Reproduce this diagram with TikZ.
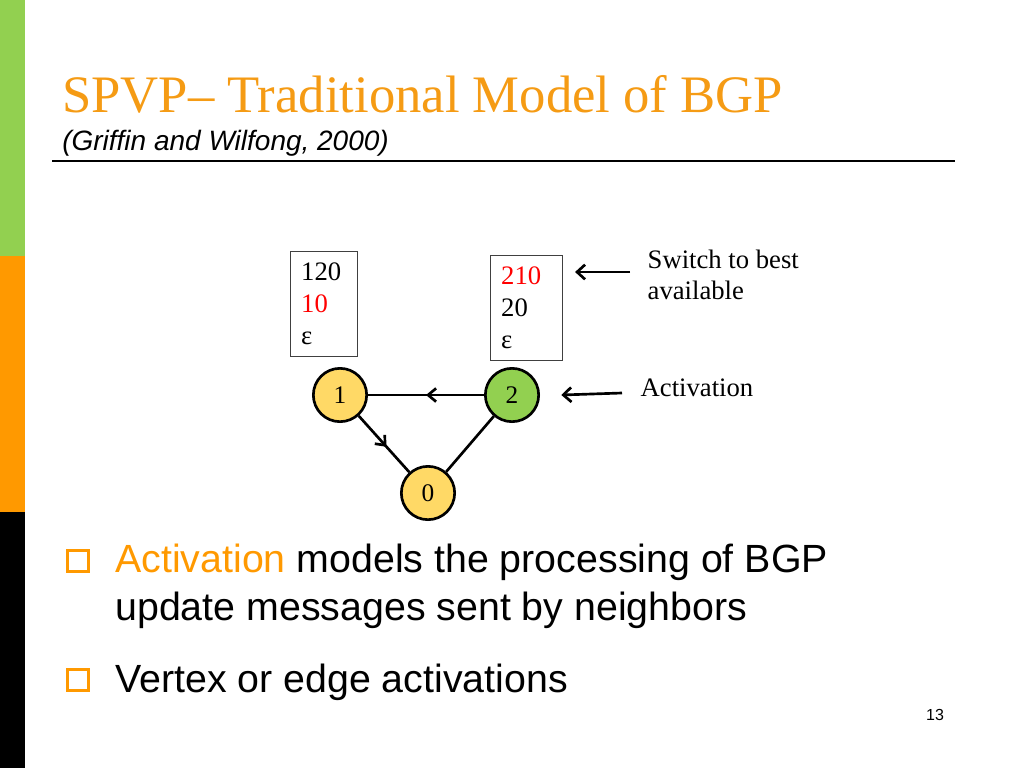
\documentclass[tikz,border=0pt]{standalone}
\usepackage{fontspec}
\setmainfont{Liberation Serif}
\setsansfont{Liberation Sans}
\usetikzlibrary{arrows.meta,decorations.markings}
\definecolor{barGreen}{RGB}{146,208,80}
\definecolor{barOrange}{RGB}{255,153,0}
\definecolor{titleOrange}{RGB}{245,155,20}
\definecolor{nodeYellow}{RGB}{255,217,102}
\definecolor{nodeGreen}{RGB}{146,208,80}
\tikzset{
  router/.style={circle,draw,line width=2,minimum size=40,inner sep=0,font=\fontsize{19}{22}\selectfont},
  pathbox/.style={draw=black!75,line width=0.8,align=left,anchor=north west,inner sep=0,text width=50,minimum height=79,font=\fontsize{20}{24}\selectfont},
  midarrow/.style={postaction={decorate},decoration={markings,mark=at position #1 with {\arrow{Straight Barb[length=6,width=10,line width=2]}}}},
  callout/.style={-{Straight Barb[length=6,width=11]},line width=2},
  note/.style={anchor=west,align=left,font=\fontsize{20}{23}\selectfont},
  bullet/.style={draw=barOrange,line width=1.8,minimum size=16,inner sep=0},
  bodytext/.style={anchor=base west,inner sep=0,font=\sffamily\fontsize{29.5}{36}\selectfont}
}
\begin{document}
\begin{tikzpicture}[x=0.75pt,y=0.75pt,yscale=-1,xscale=1]
\useasboundingbox (0,0) rectangle (1024,768);
% side bar
\fill[barGreen] (0,0) rectangle (25,256);
\fill[barOrange] (0,256) rectangle (25,512);
\fill[black] (0,512) rectangle (25,768);

% title
\node (title) [anchor=base west,inner sep=0,text=titleOrange,font=\fontsize{39.5}{42}\selectfont] at (62,112) {SPVP-- Traditional Model of BGP};
\node (subtitle) [anchor=base west,inner sep=0,font=\sffamily\itshape\fontsize{21}{24}\selectfont] at (62,150) {(Griffin and Wilfong, 2000)};
\draw[line width=2] (52,161) -- (955,161);

% path boxes
\node (box1) [pathbox] at (290,251) {\hspace*{8pt}120\\\hspace*{8pt}\textcolor{red}{10}\\\hspace*{8pt}ε};
\node (box2) [pathbox,text width=54] at (490,255) {\hspace*{8pt}\textcolor{red}{210}\\\hspace*{8pt}20\\\hspace*{8pt}ε};

% routers
\node (r1) [router,fill=nodeYellow] at (340,395) {1};
\node (r2) [router,fill=nodeGreen] at (512,395) {2};
\node (r0) [router,fill=nodeYellow] at (428,493) {0};
\draw[line width=2,midarrow=0.5] (r2) -- (r1);
\draw[line width=2,midarrow=0.55] (r1) -- (r0);
\draw[line width=2] (r2) -- (r0);

% callouts
\node (switchnote) [note] at (643,275) {Switch to best\\available};
\node (actnote) [note] at (636,388) {Activation};
\coordinate (switchtail) at (630,272);
\coordinate (acttail) at (622,393);
\draw[callout] (switchtail) -- ([xshift=9]box2.east |- switchtail);
\draw[callout] (acttail) -- ([xshift=16]r2.east);

% bullets
\node (b1) [bullet] at (78,561) {};
\node (b2) [bullet] at (78,680) {};
\node (t1) [bodytext] at (115,572) {\textcolor{barOrange}{Activation} models the processing of BGP};
\node (t1b) [bodytext] at (115,620) {update messages sent by neighbors};
\node (t2) [bodytext] at (115,692) {Vertex or edge activations};

% page number
\node (page) [font=\sffamily\fontsize{12}{14}\selectfont] at (935,715) {13};
\end{tikzpicture}
\end{document}
